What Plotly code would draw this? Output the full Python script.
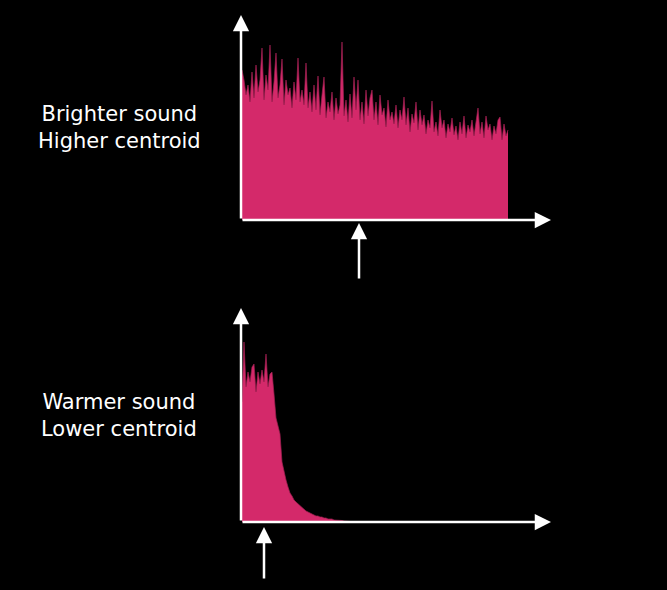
import plotly.graph_objects as go

W, H = 667, 590

# spectrum magnitudes, one bin every 2 px
bright_mag = [
    150, 140, 125, 135, 118, 148, 122, 155, 128, 140, 172, 120, 145, 130, 175, 118,
    138, 167, 122, 135, 161, 115, 140, 125, 132, 112, 138, 120, 162, 118,
    130, 115, 157, 112, 128, 108, 135, 110, 144, 105, 125, 143, 102, 118, 108, 128,
    100, 122, 106, 115, 178, 104, 120, 98, 126, 102, 143, 110, 140, 100,
    118, 96, 130, 104, 122, 130, 100, 118, 95, 125, 105, 112, 93, 120, 100, 108,
    96, 115, 92, 110, 100, 123, 95, 112, 88, 106, 97, 118, 90, 110,
    95, 105, 86, 100, 92, 119, 88, 98, 84, 110, 92, 100, 82, 96, 88, 102,
    85, 94, 80, 98, 86, 104, 82, 95, 88, 100, 84, 96, 112, 86, 98, 82,
    104, 90, 96, 80, 94, 86, 100, 103, 80, 96, 84, 90,
]
warm_mag = [
    120, 180, 135, 150, 140, 155, 158, 130, 150, 138, 152, 140, 168, 135, 148, 150,
    128, 104, 96, 88, 60, 50, 42, 35, 29, 26, 22, 20, 18, 16, 14, 12,
    11, 10, 9, 8, 7, 6, 6, 5, 5, 4, 4, 3, 3, 3, 2, 2,
    2, 1.5, 1.5, 1, 1, 1, 0.5,
]

labels = ["Brighter sound<br>Higher centroid", "Warmer sound<br>Lower centroid"]

FILL = "#d4296a"
EDGE = "#9e1f50"


def px(x):
    return x / W


def py(y):
    return 1 - y / H


fig = go.Figure()
fig.add_trace(go.Scatter(y=bright_mag, mode="lines", fill="tozeroy",
                         fillcolor=FILL, line=dict(color=EDGE, width=0.7),
                         xaxis="x", yaxis="y", hoverinfo="skip"))
fig.add_trace(go.Scatter(y=warm_mag, mode="lines", fill="tozeroy",
                         fillcolor=FILL, line=dict(color=EDGE, width=0.7),
                         xaxis="x2", yaxis="y2", hoverinfo="skip"))

hidden = dict(visible=False, fixedrange=True)
fig.update_layout(
    width=W, height=H,
    margin=dict(l=0, r=0, t=0, b=0),
    paper_bgcolor="black", plot_bgcolor="black",
    showlegend=False,
    xaxis=dict(domain=[px(241), px(551)], range=[-0.5, 154.5], **hidden),
    yaxis=dict(domain=[py(220), py(15)], range=[0, 205], **hidden),
    xaxis2=dict(domain=[px(241), px(551)], range=[-0.5, 154.5], anchor="y2", **hidden),
    yaxis2=dict(domain=[py(522), py(308)], range=[0, 214], anchor="x2", **hidden),
)

# axes and centroid markers as arrows
arrows = [
    (551, 220, -310, 0),
    (241, 15, 0, 205),
    (359, 223, 0, 57),
    (551, 522, -310, 0),
    (241, 308, 0, 214),
    (264, 527, 0, 53),
]
for hx, hy, ax, ay in arrows:
    fig.add_annotation(x=px(hx), y=py(hy), xref="paper", yref="paper",
                       ax=ax, ay=ay, showarrow=True, arrowhead=2,
                       arrowsize=1.3, arrowwidth=2.5, arrowcolor="white",
                       standoff=0, text="")

for text, cy in zip(labels, [127, 415]):
    fig.add_annotation(x=px(119), y=py(cy), xref="paper", yref="paper",
                       xanchor="center", yanchor="middle",
                       text=text, showarrow=False, align="center",
                       font=dict(family="DejaVu Sans", size=21, color="white"))

fig.write_html(
    "out.html",
    config={"displayModeBar": False},
    post_script="document.body.style.margin='0';document.body.style.background='black';",
)
